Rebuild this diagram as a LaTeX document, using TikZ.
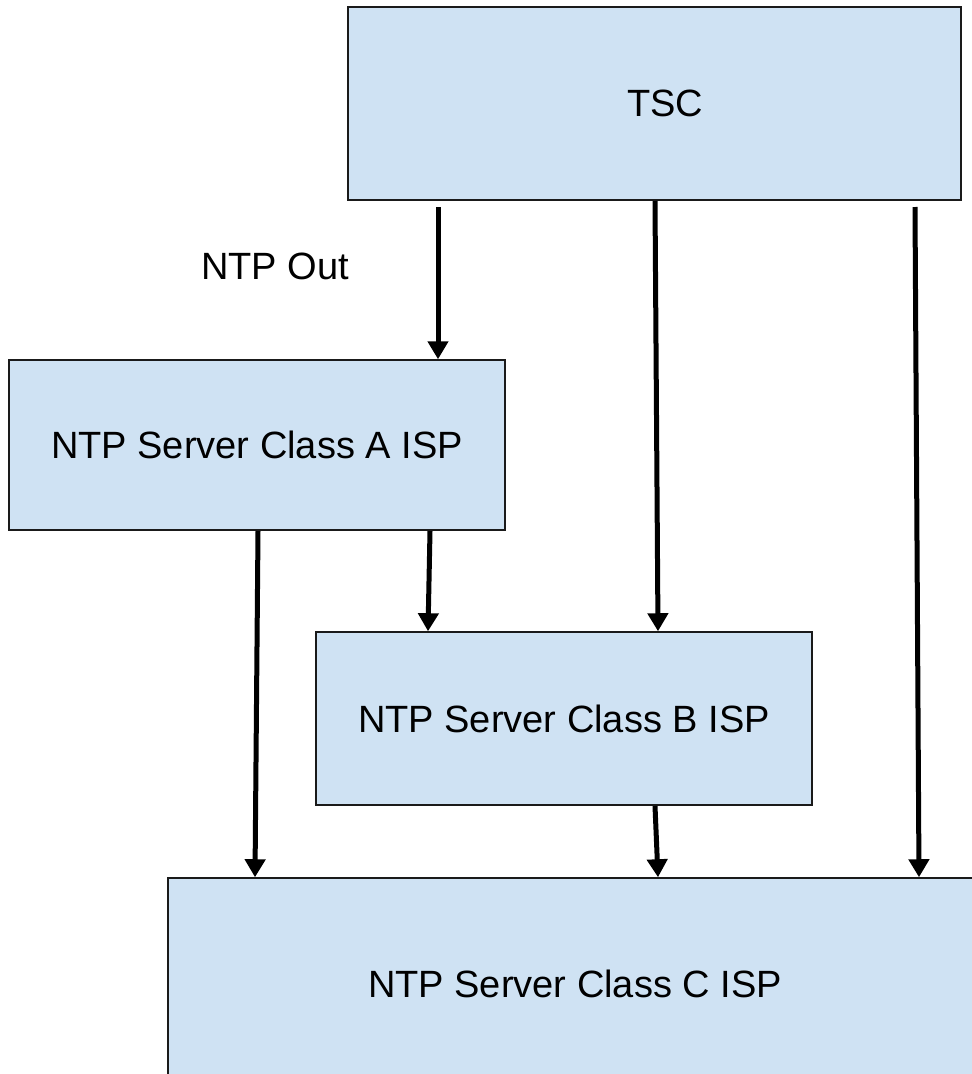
\documentclass[tikz,border=0pt]{standalone}
\usepackage{fontspec}
\setmainfont{Liberation Sans}
\usetikzlibrary{arrows.meta}
\definecolor{boxfill}{HTML}{CFE2F3}
\definecolor{boxline}{HTML}{1A1A1A}
\tikzset{
  box/.style={draw=boxline, line width=1.5pt, fill=boxfill, rectangle, inner sep=0pt,
              font=\fontsize{38}{44}\selectfont},
  flow/.style={line width=5pt, -{Triangle[width=20pt,length=18pt]}},
  lbl/.style={font=\fontsize{38}{44}\selectfont, inner sep=0pt}
}
\begin{document}
\begin{tikzpicture}[x=1pt,y=-1pt]
\useasboundingbox (0,0) rectangle (972,1074);
\clip (0,0) rectangle (972,1074);
% boxes
\node[box, minimum width=613pt, minimum height=193pt] (tsc) at (654.5,103.5) {\hspace*{21pt}TSC};
\node[box, minimum width=496pt, minimum height=170pt] (a) at (257,445) {NTP Server Class A ISP};
\node[box, minimum width=496pt, minimum height=173pt] (b) at (564,718.5) {NTP Server Class B ISP};
\node[box, minimum width=814pt, minimum height=212pt] (c) at (575,984) {NTP Server Class C ISP};
% label
\node[lbl] (out) at (275,266) {NTP Out};
% connector endpoints
\coordinate (t1) at (438,207);
\coordinate (t2) at (655,201);
\coordinate (t3) at (915,207);
\coordinate (a1) at (258,531);
\coordinate (a2) at (430,531);
\coordinate (b1) at (655,806);
\draw[flow] (t1) -- (t1 |- a.north);
\draw[flow] (t2) -- ([xshift=3pt]t2 |- b.north);
\draw[flow] (t3) -- ([xshift=4pt]t3 |- c.north);
\draw[flow] (a1) -- ([xshift=-3pt]a1 |- c.north);
\draw[flow] (a2) -- ([xshift=-2pt]a2 |- b.north);
\draw[flow] (b1) -- ([xshift=3pt]b1 |- c.north);
\end{tikzpicture}
\end{document}
